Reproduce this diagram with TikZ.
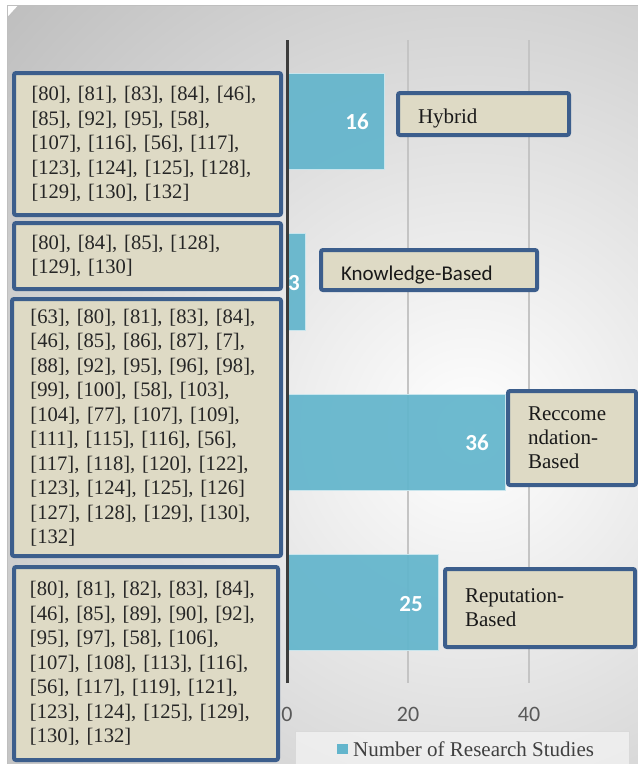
\documentclass[tikz,border=0pt]{standalone}
\usepackage{fontspec}
\setmainfont{Liberation Serif}
\newfontfamily\chartsans{Carlito}
\usepackage{xcolor}
\usetikzlibrary{positioning}
\definecolor{barblue}{RGB}{99,181,204}
\definecolor{boxblue}{RGB}{60,94,140}
\definecolor{boxfill}{RGB}{222,218,197}
\definecolor{axisgray}{RGB}{60,60,60}
\definecolor{gridgray}{RGB}{196,196,196}

\begin{document}
\begin{tikzpicture}[x=1pt,y=-1pt,
    bar/.style={fill=barblue, fill opacity=0.93, draw=barblue!35, line width=1pt},
    barvalue/.style={anchor=east, inner sep=0pt, text=white, font=\chartsans\bfseries\fontsize{23}{23}\selectfont},
    ticklabel/.style={text=black!65, font=\chartsans\fontsize{22}{22}\selectfont},
    gridline/.style={draw=gridgray, line width=1.5pt},
    citebox/.style={draw=boxblue, fill=boxfill, line width=4pt, rounded corners=2pt,
      inner xsep=0pt, align=left, text width=232pt, text=black!85,
      font=\fontsize{20.6}{24.5}\selectfont},
    labelbox/.style={draw=boxblue, fill=boxfill, line width=4pt, rounded corners=2pt,
      inner xsep=20pt, align=left, text=black!90, font=\fontsize{21}{24.2}\selectfont}]
  \useasboundingbox (0,0) rectangle (638,764);
  % chart area
  \fill[white] (0,0) rectangle (638,764);
  \begin{scope}
    \clip (7,5) rectangle (638,764);
    \shade[inner color=white, outer color=black!25] (470,430) circle (620pt);
  \end{scope}
  \draw[black!25] (7,5) rectangle (640,770);
  \coordinate (origin) at (287,683);
  \coordinate (axistop) at (287,40);
  \foreach \v in {20,40}
    \draw[gridline] (287+6.05*\v,40) -- (287+6.05*\v,683);
  \foreach \v in {0,20,40}
    \node[ticklabel] (tick\v) at (287+6.05*\v,714) {\v};
  % bars
  \draw[bar] (287,73) rectangle (384,169);
  \draw[bar] (287,233) rectangle (305,330);
  \draw[bar] (287,394) rectangle (505,490);
  \draw[bar] (287,554) rectangle (438,650);
  \draw[axisgray, line width=3pt] (origin) -- (axistop);
  \node[barvalue] (hybridval) at (369,122) {16};
  \node[barvalue] (knowval) at (300,283) {3};
  \node[barvalue] (recomval) at (489,443) {36};
  \node[barvalue] (reputval) at (423,604) {25};
  % citation boxes
  \node[citebox, minimum width=267pt, minimum height=142pt] (hybridcites) at (147.5,144)
    {[80], [81], [83], [84], [46],\\{}[85], [92], [95], [58],\\{}[107], [116], [56], [117],\\{}%
     [123], [124], [125], [128],\\{}[129], [130], [132]};
  \node[citebox, minimum width=267pt, minimum height=66pt] (knowcites) at (147.5,256)
    {[80], [84], [85], [128],\\{}[129], [130]};
  \node[citebox, minimum width=269pt, minimum height=257pt] (recomcites) at (146.5,427.5)
    {[63], [80], [81], [83], [84],\\{}[46], [85], [86], [87], [7],\\{}[88], [92], [95], [96], [98],\\{}%
     [99], [100], [58], [103],\\{}[104], [77], [107], [109],\\{}[111], [115], [116], [56],\\{}%
     [117], [118], [120], [122],\\{}[123], [124], [125], [126]\\{}[127], [128], [129], [130],\\{}[132]};
  \node[citebox, minimum width=264pt, minimum height=193pt] (reputcites) at (146,663.5)
    {[80], [81], [82], [83], [84],\\{}[46], [85], [89], [90], [92],\\{}[95], [97], [58], [106],\\{}%
     [107], [108], [113], [116],\\{}[56], [117], [119], [121],\\{}[123], [124], [125], [129],\\{}[130], [132]};
  % category labels
  \node[labelbox, minimum width=171pt, minimum height=42pt, text width=131pt, text height=24pt] (hybridlabel) at (483.5,114) {Hybrid};
  \node[labelbox, minimum width=216pt, minimum height=40pt, text width=176pt, text height=24pt, font=\chartsans\fontsize{21}{24}\selectfont] (knowlabel) at (429,270) {Knowledge-Based};
  \node[labelbox, minimum width=128pt, minimum height=94pt, text width=88pt] (recomlabel) at (572,438) {Reccome\\ ndation-\\ Based};
  \node[labelbox, minimum width=190pt, minimum height=78pt, text width=150pt] (reputlabel) at (540,608) {Reputation-\\ Based};
  % legend
  \draw[fill=black!4, fill opacity=0.7, draw=black!15] (295,731) rectangle (629,768);
  \node[fill=barblue, minimum size=10.5pt, inner sep=0pt] (legendkey) at (342.5,749) {};
  \node[right=5pt of legendkey, inner sep=0pt, text=black!75, font=\fontsize{21}{21}\selectfont] (legendtext) {Number of Research Studies};
\end{tikzpicture}
\end{document}
